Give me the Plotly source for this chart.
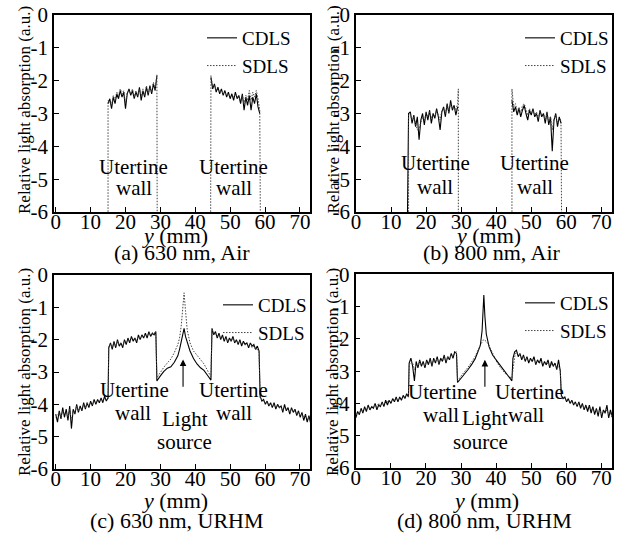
import plotly.graph_objects as go

FONT = "Liberation Serif, Times New Roman, serif"
FLOOR = -7.0  # signal absent (below axis floor)

# ---------------- x sample grids ----------------
X_AIR_L = [15.0 + 0.5 * i for i in range(29)]      # 15 .. 29
X_AIR_R = [44.5 + 0.5 * i for i in range(29)]      # 44.5 .. 58.5
X_OUT_L = [0.0 + 0.5 * i for i in range(31)]       # 0 .. 15
X_WALL_L = [15.2 + 0.5 * i for i in range(28)]     # 15.2 .. 28.7
X_WALL_R = [44.8 + 0.5 * i for i in range(28)]     # 44.8 .. 58.3
X_OUT_R = [58.6 + 0.5 * i for i in range(30)]      # 58.6 .. 73.1
X_CEN_C = [29.0, 30, 31, 32, 33, 34, 35, 35.5, 36, 36.4, 36.8, 37.2, 37.7, 38.5, 39.5, 40.5, 41.5, 42.5, 43.5, 44.5]
X_CEN_D = [29.0, 30, 31, 32, 33, 34, 35, 35.5, 36, 36.3, 36.5, 36.8, 37.2, 38, 39, 40, 41, 42, 43, 44.5]

# ---------------- (a) 630 nm, Air ----------------
A_CDLS_L = [-2.7, -2.55, -2.85, -2.5, -2.7, -2.4, -2.55, -2.3, -2.5, -2.35,
            -2.85, -2.4, -2.25, -2.45, -2.3, -2.55, -2.35, -2.5, -2.2, -2.6,
            -2.3, -2.5, -2.2, -2.45, -2.15, -2.4, -2.1, -2.3, -1.85]
A_SDLS_L = [-2.6, -2.65, -2.75, -2.45, -2.6, -2.35, -2.45, -2.25, -2.4, -2.3,
            -2.7, -2.35, -2.3, -2.4, -2.25, -2.5, -2.3, -2.45, -2.25, -2.5,
            -2.25, -2.45, -2.15, -2.4, -2.2, -2.35, -2.05, -2.25, -1.82]
A_CDLS_R = [-1.9, -2.25, -2.1, -2.35, -2.2, -2.4, -2.25, -2.45, -2.3, -2.5,
            -2.35, -2.55, -2.4, -2.6, -2.35, -2.55, -2.45, -2.7, -2.4, -2.9,
            -2.5, -2.75, -2.45, -2.9, -2.5, -2.7, -2.4, -2.8, -3.0]
A_SDLS_R = [-1.85, -2.2, -2.15, -2.3, -2.25, -2.35, -2.3, -2.4, -2.35, -2.45,
            -2.4, -2.5, -2.45, -2.5, -2.4, -2.5, -2.5, -2.6, -2.45, -2.7,
            -2.45, -2.6, -2.3, -2.6, -2.35, -2.5, -2.3, -2.55, -2.9]

# ---------------- (b) 800 nm, Air ----------------
B_CDLS_L = [-3.0, -2.95, -3.3, -3.05, -3.4, -3.1, -3.8, -3.2, -3.0, -3.35,
            -2.95, -3.2, -2.9, -3.3, -3.0, -3.15, -2.85, -3.1, -3.5, -2.95,
            -2.8, -3.1, -2.7, -3.0, -2.6, -2.9, -2.75, -3.05, -2.8]
B_SDLS_L = [-3.05, -3.0, -3.2, -3.1, -3.3, -3.5, -3.45, -3.3, -3.1, -3.2,
            -3.0, -3.1, -2.95, -3.15, -3.0, -3.1, -2.9, -3.05, -3.2, -2.9,
            -2.85, -3.0, -2.75, -2.95, -2.7, -2.85, -2.8, -2.9, -2.7]
B_SDLS_SPIKE_X = [29.2]
B_SDLS_SPIKE_Y = [-2.25]
B_CDLS_R = [-2.6, -2.95, -2.8, -3.05, -2.85, -3.1, -2.9, -2.75, -3.0, -3.2,
            -2.9, -3.05, -2.85, -3.1, -3.0, -3.25, -2.9, -3.1, -3.0, -3.3,
            -2.95, -3.35, -3.1, -4.15, -3.2, -3.0, -3.4, -3.1, -3.3]
B_SDLS_R = [-2.25, -2.8, -2.7, -2.95, -2.8, -3.0, -2.75, -2.7, -2.9, -3.05,
            -2.85, -3.0, -2.9, -3.05, -2.95, -3.15, -2.95, -3.05, -3.0, -3.2,
            -3.0, -3.25, -3.1, -3.5, -3.15, -3.05, -3.3, -3.15, -3.2]

# ---------------- (c) 630 nm, URHM ----------------
C_CDLS_OL = [-4.3, -4.55, -4.2, -4.45, -4.1, -4.4, -4.15, -4.5, -4.05, -4.75,
             -4.15, -4.3, -4.0, -4.25, -4.05, -4.2, -3.95, -4.15, -3.95, -4.1,
             -3.9, -4.05, -3.85, -4.0, -3.85, -3.95, -3.8, -3.95, -3.75, -3.9, -3.8]
C_SDLS_OL = [-4.4, -4.35, -4.25, -4.4, -4.2, -4.3, -4.25, -4.4, -4.15, -4.5,
             -4.2, -4.25, -4.05, -4.2, -4.1, -4.15, -4.0, -4.1, -3.95, -4.05,
             -3.95, -4.0, -3.9, -3.95, -3.9, -3.9, -3.85, -3.9, -3.8, -3.85, -3.85]
C_CDLS_WL = [-2.25, -2.1, -2.3, -2.05, -2.25, -2.0, -2.2, -2.1, -2.25, -2.0,
             -2.15, -1.95, -2.1, -1.9, -2.05, -1.95, -2.1, -1.85, -2.0, -1.85,
             -1.95, -1.8, -1.95, -1.75, -1.9, -1.8, -1.85, -1.75]
C_SDLS_WL = [-2.2, -2.15, -2.25, -2.1, -2.2, -2.05, -2.15, -2.1, -2.2, -2.05,
             -2.1, -2.0, -2.05, -1.95, -2.0, -1.95, -2.05, -1.9, -1.95, -1.9,
             -1.9, -1.85, -1.9, -1.8, -1.85, -1.8, -1.8, -1.78]
C_CDLS_C = [-3.28, -3.12, -2.98, -2.88, -2.84, -2.7, -2.5, -2.3, -2.05, -1.85,
            -1.65, -1.9, -2.1, -2.35, -2.58, -2.75, -2.87, -2.95, -3.1, -3.25]
C_SDLS_C = [-3.18, -3.0, -2.85, -2.72, -2.6, -2.4, -2.15, -1.95, -1.55, -1.05,
            -0.55, -1.1, -1.7, -2.1, -2.35, -2.48, -2.6, -2.75, -2.95, -3.15]
C_CDLS_WR = [-1.65, -1.85, -1.75, -1.95, -1.8, -2.0, -1.85, -2.05, -1.9, -2.1,
             -1.95, -2.05, -1.9, -2.1, -2.0, -2.15, -2.0, -2.2, -2.05, -2.15,
             -2.1, -2.25, -2.1, -2.2, -2.15, -2.3, -2.2, -2.35]
C_SDLS_WR = [-1.7, -1.8, -1.8, -1.9, -1.85, -1.95, -1.9, -2.0, -1.95, -2.05,
             -2.0, -2.05, -1.95, -2.05, -2.05, -2.1, -2.05, -2.15, -2.1, -2.15,
             -2.15, -2.2, -2.15, -2.25, -2.2, -2.3, -2.3, -2.4]
C_CDLS_OR = [-3.75, -3.9, -3.85, -4.0, -3.9, -4.05, -3.95, -4.1, -3.95, -4.15,
             -4.0, -4.1, -4.05, -4.25, -4.0, -4.2, -4.1, -4.3, -4.1, -4.25,
             -4.15, -4.35, -4.2, -4.4, -4.25, -4.5, -4.3, -4.55, -4.35, -4.6]
C_SDLS_OR = [-3.8, -3.85, -3.9, -3.95, -3.95, -4.0, -4.0, -4.05, -4.0, -4.1,
             -4.05, -4.1, -4.1, -4.2, -4.1, -4.15, -4.15, -4.25, -4.15, -4.2,
             -4.2, -4.3, -4.25, -4.35, -4.3, -4.4, -4.35, -4.45, -4.4, -4.5]

# ---------------- (d) 800 nm, URHM ----------------
D_CDLS_OL = [-4.45, -4.25, -4.35, -4.15, -4.3, -4.1, -4.25, -4.05, -4.2, -4.1,
             -4.15, -4.0, -4.2, -4.05, -4.1, -3.95, -4.1, -3.9, -4.05, -3.9,
             -4.0, -3.85, -3.95, -3.8, -3.95, -3.8, -3.9, -3.75, -3.85, -3.7, -3.8]
D_SDLS_OL = [-4.35, -4.3, -4.3, -4.2, -4.25, -4.15, -4.2, -4.1, -4.15, -4.1,
             -4.1, -4.05, -4.1, -4.0, -4.05, -4.0, -4.0, -3.95, -3.95, -3.9,
             -3.95, -3.9, -3.9, -3.85, -3.9, -3.85, -3.85, -3.8, -3.8, -3.75, -3.8]
D_CDLS_WL = [-2.75, -2.6, -2.85, -3.3, -2.7, -2.9, -2.65, -2.85, -2.7, -2.9,
             -2.65, -2.8, -2.6, -2.85, -2.6, -2.75, -2.55, -2.8, -2.6, -2.7,
             -2.5, -2.75, -2.55, -2.65, -2.45, -2.6, -2.4, -2.45]
D_SDLS_WL = [-2.8, -2.7, -2.75, -2.95, -2.8, -2.85, -2.7, -2.8, -2.75, -2.85,
             -2.7, -2.75, -2.65, -2.8, -2.65, -2.7, -2.6, -2.75, -2.6, -2.65,
             -2.55, -2.7, -2.55, -2.6, -2.5, -2.55, -2.45, -2.4]
D_CDLS_C = [-3.35, -3.22, -3.1, -2.95, -2.8, -2.62, -2.35, -2.2, -1.75, -1.2,
            -0.64, -1.3, -1.85, -2.25, -2.5, -2.65, -2.8, -2.95, -3.1, -3.3]
D_SDLS_C = [-3.3, -3.15, -3.02, -2.88, -2.72, -2.55, -2.3, -2.18, -2.08, -2.04,
            -2.02, -2.04, -2.08, -2.2, -2.45, -2.68, -2.86, -3.0, -3.12, -3.22]
D_CDLS_WR = [-2.6, -2.4, -2.35, -2.55, -2.45, -2.65, -2.5, -2.7, -2.55, -2.75,
             -2.6, -2.7, -2.55, -2.8, -2.65, -2.75, -2.6, -2.85, -2.7, -2.8,
             -2.65, -2.9, -2.7, -2.85, -2.75, -2.95, -2.65, -3.0]
D_SDLS_WR = [-2.9, -2.55, -2.4, -2.45, -2.5, -2.6, -2.55, -2.65, -2.6, -2.7,
             -2.65, -2.7, -2.65, -2.75, -2.7, -2.75, -2.7, -2.8, -2.75, -2.8,
             -2.75, -2.85, -2.8, -2.85, -2.8, -2.9, -2.85, -2.95]
D_CDLS_OR = [-3.75, -3.85, -3.8, -3.95, -3.85, -4.0, -3.9, -4.05, -3.95, -4.1,
             -3.95, -4.15, -4.0, -4.2, -4.05, -4.25, -4.05, -4.3, -4.1, -4.35,
             -4.15, -4.4, -4.1, -4.45, -4.2, -4.3, -4.05, -4.45, -4.2, -4.4]
D_SDLS_OR = [-3.8, -3.8, -3.85, -3.9, -3.9, -3.95, -3.95, -4.0, -4.0, -4.05,
             -4.0, -4.1, -4.05, -4.15, -4.1, -4.15, -4.1, -4.2, -4.15, -4.25,
             -4.2, -4.3, -4.2, -4.35, -4.25, -4.3, -4.2, -4.35, -4.3, -4.45]

X_TICKS = [0, 10, 20, 30, 40, 50, 60, 70]
Y_TICKS = [0, -1, -2, -3, -4, -5, -6]
Y_TICK_TEXT = ["0", "-1", "-2", "-3", "-4", "-5", "-6"]
SERIES = ["CDLS", "SDLS"]
PANEL_TITLES = ["(a) 630 nm, Air", "(b) 800 nm, Air", "(c) 630 nm, URHM", "(d) 800 nm, URHM"]

# ---------------- build ----------------
def air_xy(xl, yl, xr, yr, edges=(15.0, 29.0, 44.5, 58.5), drops=(True, True, True, True),
           extra_x=(), extra_y=()):
    """Build one Air curve; each wall edge optionally drops to the floor (no signal)."""
    assert len(xl) == len(yl) and len(xr) == len(yr)
    sl, el, sr, er = edges
    dl0, dl1, dr0, dr1 = drops
    x = ([sl] if dl0 else []) + xl + list(extra_x) + ([el] if dl1 else []) + [None] \
        + ([sr] if dr0 else []) + xr + ([er] if dr1 else [])
    y = ([FLOOR] if dl0 else []) + yl + list(extra_y) + ([FLOOR] if dl1 else []) + [None] \
        + ([FLOOR] if dr0 else []) + yr + ([FLOOR] if dr1 else [])
    return x, y

def urhm_xy(xc, ol, wl, c, wr, orr):
    segs = [(X_OUT_L, ol), (X_WALL_L, wl), (xc, c), (X_WALL_R, wr), (X_OUT_R, orr)]
    x, y = [], []
    for sx, sy in segs:
        assert len(sx) == len(sy), (len(sx), len(sy))
        x += list(sx)
        y += list(sy)
    return x, y

panel_data = [
    (air_xy(X_AIR_L, A_CDLS_L, X_AIR_R, A_CDLS_R, drops=(False, False, False, False)),
     air_xy(X_AIR_L, A_SDLS_L, X_AIR_R, A_SDLS_R, edges=(15.0, 29.1, 44.4, 58.7))),
    (air_xy(X_AIR_L, B_CDLS_L, X_AIR_R, B_CDLS_R, edges=(14.6, 29.0, 44.5, 58.7),
            drops=(True, False, False, False)),
     air_xy(X_AIR_L, B_SDLS_L, X_AIR_R, B_SDLS_R, edges=(15.0, 29.2, 44.5, 58.7),
            extra_x=B_SDLS_SPIKE_X, extra_y=B_SDLS_SPIKE_Y)),
    (urhm_xy(X_CEN_C, C_CDLS_OL, C_CDLS_WL, C_CDLS_C, C_CDLS_WR, C_CDLS_OR),
     urhm_xy(X_CEN_C, C_SDLS_OL, C_SDLS_WL, C_SDLS_C, C_SDLS_WR, C_SDLS_OR)),
    (urhm_xy(X_CEN_D, D_CDLS_OL, D_CDLS_WL, D_CDLS_C, D_CDLS_WR, D_CDLS_OR),
     urhm_xy(X_CEN_D, D_SDLS_OL, D_SDLS_WL, D_SDLS_C, D_SDLS_WR, D_SDLS_OR)),
]

W, H = 618, 534
def px(v): return v / W
def py(v): return 1 - v / H

# plot-area boxes in pixels: left, right, top, bottom
boxes = [(54, 310, 15, 212), (356, 612, 15, 212), (54, 310, 275, 469), (355.5, 612, 274.3, 468)]
xranges = [[-0.5, 72.9], [0, 73.05], [-0.5, 72.9], [-0.1, 73.05]]

fig = go.Figure()
styles = [dict(color="black", width=1.1, dash="solid"),
          dict(color="#444444", width=1.0, dash="1.5px,1.5px")]
legend_names = ["legend", "legend2", "legend3", "legend4"]

for i, (cd, sd) in enumerate(panel_data):
    xa = "x" if i == 0 else f"x{i+1}"
    ya = "y" if i == 0 else f"y{i+1}"
    for j, (xy, name) in enumerate([(cd, SERIES[0]), (sd, SERIES[1])]):
        fig.add_trace(go.Scatter(x=xy[0], y=xy[1], mode="lines", name=name,
                                 line=styles[j], xaxis=xa, yaxis=ya,
                                 legend=legend_names[i], showlegend=True,
                                 connectgaps=False, hoverinfo="skip"))

layout = dict(width=W, height=H, margin=dict(l=0, r=0, t=0, b=0, autoexpand=False),
              paper_bgcolor="white", plot_bgcolor="white",
              font=dict(family=FONT, size=20, color="black"))

for i, (l, r, t, b) in enumerate(boxes):
    sx = "xaxis" if i == 0 else f"xaxis{i+1}"
    sy = "yaxis" if i == 0 else f"yaxis{i+1}"
    ya = "y" if i == 0 else f"y{i+1}"
    xa = "x" if i == 0 else f"x{i+1}"
    layout[sx] = dict(domain=[px(l), px(r)], range=xranges[i], anchor=ya,
                      tickvals=X_TICKS, ticks="inside", ticklen=5, tickwidth=1.2,
                      tickcolor="black", showline=True, linecolor="black", linewidth=1.5,
                      mirror=True, showgrid=False, zeroline=False, automargin=False,
                      ticklabelstandoff=-10,
                      tickfont=dict(family=FONT, size=21, color="black"))
    layout[sy] = dict(domain=[py(b), py(t)], range=[-6, 0], anchor=xa,
                      tickvals=Y_TICKS, ticktext=Y_TICK_TEXT, ticks="inside", ticklen=5,
                      tickwidth=1.2, tickcolor="black", showline=True, linecolor="black",
                      linewidth=1.5, mirror=True, showgrid=False, zeroline=False,
                      automargin=False,
                      tickfont=dict(family=FONT, size=21, color="black"))

leg_pos = [(202, 19), (520, 19), (218, 286), (520, 284)]
for i, (lx, ly) in enumerate(leg_pos):
    layout[legend_names[i]] = dict(x=px(lx), y=py(ly), xanchor="left", yanchor="top",
                                   bgcolor="rgba(0,0,0,0)", borderwidth=0,
                                   font=dict(family=FONT, size=19, color="black"),
                                   itemwidth=30, tracegroupgap=0)

fig.update_layout(**layout)

ann = []
def a_paper(text, x, y, size=21, angle=0):
    ann.append(dict(text=text, x=px(x), y=py(y), xref="paper", yref="paper",
                    showarrow=False, textangle=angle, xanchor="center", yanchor="middle",
                    font=dict(family=FONT, size=size, color="black")))

def a_data(text, x, y, i, size=21):
    xa = "x" if i == 0 else f"x{i+1}"
    ya = "y" if i == 0 else f"y{i+1}"
    ann.append(dict(text=text, x=x, y=y, xref=xa, yref=ya, showarrow=False,
                    xanchor="center", yanchor="middle",
                    font=dict(family=FONT, size=size, color="black")))

title_pos = [(182, 252), (492, 252), (177, 520), (485, 520)]
xt_pos = [(175, 235), (488, 235), (175, 500), (486, 500)]
yt_pos = [(24, 110), (332.5, 110), (24, 372), (332, 372)]
for i in range(4):
    a_paper(PANEL_TITLES[i], *title_pos[i], size=22)
    a_paper("<i>y</i> (mm)", *xt_pos[i], size=22)
    a_paper("Relative light absorption (a.u.)", *yt_pos[i], size=17, angle=-90)

a_data("Utertine", 22.4, -4.63, 0); a_data("wall", 22.3, -5.27, 0)
a_data("Utertine", 51.1, -4.63, 0); a_data("wall", 51.1, -5.27, 0)
a_data("Utertine", 22.6, -4.5, 1); a_data("wall", 22.6, -5.24, 1)
a_data("Utertine", 51.0, -4.5, 1); a_data("wall", 51.0, -5.24, 1)
a_data("Utertine", 22.5, -3.56, 2); a_data("wall", 22.2, -4.28, 2)
a_data("Utertine", 51.1, -3.56, 2); a_data("wall", 51.1, -4.27, 2)
a_data("Light", 37.0, -4.45, 2); a_data("source", 37.0, -5.16, 2)
a_data("Utertine", 24.6, -3.64, 3); a_data("wall", 24.4, -4.36, 3)
a_data("Utertine", 49.5, -3.64, 3); a_data("wall", 48.4, -4.36, 3)
a_data("Light", 36.9, -4.46, 3); a_data("source", 35.6, -5.19, 3)

for i, (xv, tail, head) in [(2, (36.5, -3.5, -2.61)), (3, (36.8, -3.53, -2.65))]:
    xa = f"x{i+1}"; ya = f"y{i+1}"
    ann.append(dict(text="", x=xv, y=head, ax=xv, ay=tail, xref=xa, yref=ya,
                    axref=xa, ayref=ya, showarrow=True, arrowhead=2, arrowsize=1.2,
                    arrowwidth=1.1, arrowcolor="black", standoff=0, startstandoff=0))

fig.update_layout(annotations=ann)
fig.write_html("out.html", config={"displayModeBar": False},
               post_script="document.body.style.margin='0px';document.body.style.overflow='hidden';")
